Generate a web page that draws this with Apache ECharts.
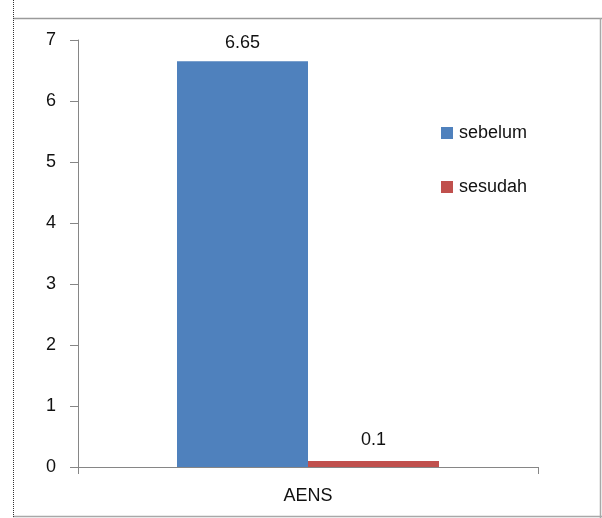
<!DOCTYPE html>
<html><head><meta charset="utf-8">
<script src="https://cdn.jsdelivr.net/npm/echarts@6/dist/echarts.min.js"></script>
<style>html,body{margin:0;padding:0;background:#fff}#c{width:602px;height:518px}</style>
</head><body><div id="c"></div>
<script>
const categories = ['AENS'];
const seriesNames = ['sebelum', 'sesudah'];
const sebelum = [6.65];
const sesudah = [0.1];
const yTicks = [0, 1, 2, 3, 4, 5, 6, 7];

const FONT = '"Liberation Sans", "DejaVu Sans", sans-serif';
const TXT = '#111';
const chart = echarts.init(document.getElementById('c'), null, {renderer: 'canvas'});
chart.setOption({
  animation: false,
  backgroundColor: '#fff',
  textStyle: {fontFamily: FONT},
  grid: {left: 78, right: 64, top: 40, bottom: 51, containLabel: false},
  legend: {
    orient: 'vertical', left: 436, top: 119, itemGap: 36, itemWidth: 12, itemHeight: 12, icon: 'rect',
    textStyle: {fontSize: 18, color: TXT, fontFamily: FONT, padding: [0, 0, 0, 1]},
    data: seriesNames
  },
  xAxis: {
    type: 'category', data: categories,
    axisLine: {lineStyle: {color: '#868686', width: 1}},
    axisTick: {show: true, length: 7, lineStyle: {color: '#868686'}},
    axisLabel: {fontSize: 18, color: TXT, margin: 20, fontFamily: FONT}
  },
  yAxis: {
    type: 'value', min: yTicks[0], max: yTicks[yTicks.length - 1], interval: 1,
    axisLine: {show: true, lineStyle: {color: '#868686', width: 1}},
    axisTick: {show: true, length: 8, lineStyle: {color: '#868686'}},
    splitLine: {show: false},
    axisLabel: {fontSize: 18, color: TXT, margin: 22, fontFamily: FONT}
  },
  series: [
    {name: seriesNames[0], type: 'bar', data: sebelum, barWidth: 131, barGap: '0%',
     itemStyle: {color: '#4F81BD'},
     label: {show: true, position: 'top', distance: 9, fontSize: 18, color: TXT, fontFamily: FONT}},
    {name: seriesNames[1], type: 'bar', data: sesudah, barWidth: 131, barGap: '0%',
     itemStyle: {color: '#C0504D'},
     label: {show: true, position: 'top', distance: 12, fontSize: 18, color: TXT, fontFamily: FONT}}
  ],
  graphic: [
    {type: 'line', shape: {x1: 13, y1: 18.5, x2: 602, y2: 18.5}, style: {stroke: '#9a9a9a', lineWidth: 1.5}, silent: true},
    {type: 'line', shape: {x1: 600.5, y1: 18, x2: 600.5, y2: 518}, style: {stroke: '#a8a8a8', lineWidth: 1.5}, silent: true},
    {type: 'line', shape: {x1: 13, y1: 516.5, x2: 602, y2: 516.5}, style: {stroke: '#a8a8a8', lineWidth: 1.5}, silent: true},
    {type: 'line', shape: {x1: 13.5, y1: 0, x2: 13.5, y2: 518}, style: {stroke: '#333', lineWidth: 1, lineDash: [1, 1]}, silent: true}
  ]
});
</script></body></html>
